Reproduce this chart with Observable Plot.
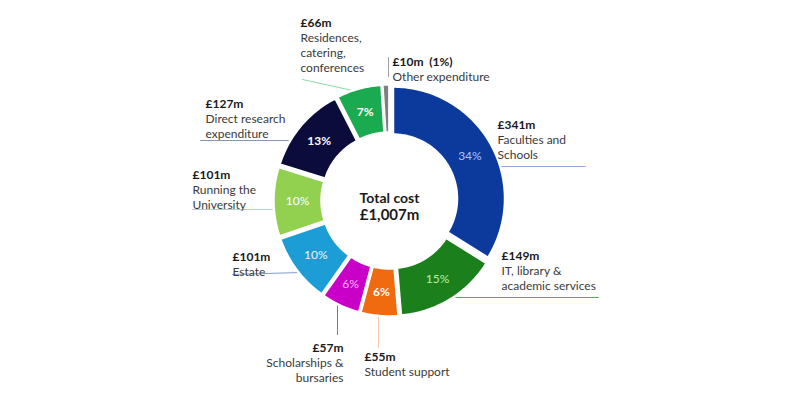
<!DOCTYPE html>
<html><head><meta charset="utf-8">
<script src="https://cdn.jsdelivr.net/npm/d3@7"></script>
<script src="https://cdn.jsdelivr.net/npm/@observablehq/plot@0.6"></script>
<style>
html,body{margin:0;padding:0;background:#fff;}
#chart{width:800px;height:400px;}
</style></head><body><div id="chart"></div>
<script>
// ---- data ----
const categories = ["Faculties and Schools","IT, library & academic services","Student support","Scholarships & bursaries","Estate","Running the University","Direct research expenditure","Residences, catering, conferences","Other expenditure"];
const values = [341,149,55,57,101,101,127,66,10];
const valueLabels = ["£341m","£149m","£55m","£57m","£101m","£101m","£127m","£66m","£10m  (1%)"];
const nameLabels = [["Faculties and","Schools"],["IT, library &","academic services"],["Student support"],["Scholarships &","bursaries"],["Estate"],["Running the","University"],["Direct research","expenditure"],["Residences,","catering,","conferences"],["Other expenditure"]];
const pctLabels = ["34%","15%","6%","6%","10%","10%","13%","7%",""];
const totalLabels = ["Total cost","£1,007m"];

// ---- styles / layout ----
const sliceColors = ["#0b3a9c","#1b801b","#f06a10","#c800c8","#1c9dd6","#92d050","#0c0c3c","#1aab50","#7f7f7f"];
const pctColors = ["#a8c4ff","#b8f0a8","#ffffff","#f8b8f8","#e8f6ff","#ffffff","#ffffff","#ffffff","#ffffff"];
const pctBold = [false,false,true,false,false,false,true,true,false];
const leaderColors = ["#8faadc","#5aa85a","#f8cbad","#d040d0","#7f9fcf","#b4dc8c","#8497b0","#8fd8a8","#a0a0a0"];
const callouts = [
  {x:497, y:125, anchor:"start", leader:[[500,166],[585,166]]},
  {x:501, y:256, anchor:"start", leader:[[452,297],[598,297]]},
  {x:364, y:357, anchor:"start", leader:[[378,310],[378,347]]},
  {x:343, y:348, anchor:"end",   leader:[[337,303],[337,334]]},
  {x:232, y:257, anchor:"start", leader:[[232,274],[300,272]]},
  {x:192, y:175, anchor:"start", leader:[[192,209],[275,209]]},
  {x:205, y:104, anchor:"start", leader:[[200,140],[288,140]]},
  {x:300, y:23,  anchor:"start", leader:[[302,79],[352,90]]},
  {x:392, y:62,  anchor:"start", leader:[[388,57],[388,76]]}
];
const cx = 389, cy = 200, R = 112, r0 = 64, explode = 4, labelR = 88, lineGap = 15;

// ---- geometry from data ----
const pie = d3.pie().sort(null).value(d => d)(values);
const polys = [], pctRows = [];
pie.forEach((p, i) => {
  const mid = (p.startAngle + p.endAngle) / 2;
  const dx = explode * Math.sin(mid), dy = -explode * Math.cos(mid);
  const n = Math.max(4, Math.ceil((p.endAngle - p.startAngle) / 0.02));
  for (let k = 0; k <= n; k++) {
    const a = p.startAngle + (p.endAngle - p.startAngle) * k / n;
    polys.push({i, x: cx + dx + R * Math.sin(a), y: cy + dy - R * Math.cos(a)});
  }
  for (let k = n; k >= 0; k--) {
    const a = p.startAngle + (p.endAngle - p.startAngle) * k / n;
    polys.push({i, x: cx + dx + r0 * Math.sin(a), y: cy + dy - r0 * Math.cos(a)});
  }
  pctRows.push({i, label: pctLabels[i], bold: pctBold[i], color: pctColors[i],
    x: cx + dx + labelR * Math.sin(mid), y: cy + dy - labelR * Math.cos(mid)});
});
const leaders = callouts.flatMap((c, i) => c.leader.map(([x, y]) => ({i, x, y})));
const valueRows = callouts.map((c, i) => ({i, x: c.x, y: c.y, anchor: c.anchor, label: valueLabels[i]}));
const nameRows = callouts.flatMap((c, i) => nameLabels[i].map((t, j) => ({i, x: c.x, y: c.y + lineGap * (j + 1), anchor: c.anchor, label: t})));
const totalRows = totalLabels.map((t, j) => ({label: t, x: cx, y: cy - 2 + 17 * j}));

const chart = Plot.plot({
  width: 800, height: 400, margin: 0,
  x: {domain: [0, 800], range: [0, 800], axis: null},
  y: {domain: [0, 400], range: [0, 400], axis: null},
  color: {type: "identity"},
  style: {fontFamily: "Lato, 'Open Sans', sans-serif", background: "#fff"},
  marks: [
    Plot.line(leaders, {x: "x", y: "y", z: "i", stroke: d => leaderColors[d.i], strokeWidth: 1}),
    Plot.line(polys, {x: "x", y: "y", z: "i", fill: d => sliceColors[d.i], stroke: "#ffffff", strokeWidth: 2.5, curve: "linear-closed"}),
    Plot.text(pctRows.filter(d => d.bold), {x: "x", y: "y", text: "label", fill: "color", fontSize: 12, fontWeight: "bold"}),
    Plot.text(pctRows.filter(d => !d.bold), {x: "x", y: "y", text: "label", fill: "color", fontSize: 12}),
    Plot.text(valueRows.filter(d => d.anchor === "start"), {x: "x", y: "y", text: "label", textAnchor: "start", fontSize: 12, fontWeight: "bold", fill: "#1a1a1a"}),
    Plot.text(valueRows.filter(d => d.anchor === "end"), {x: "x", y: "y", text: "label", textAnchor: "end", fontSize: 12, fontWeight: "bold", fill: "#1a1a1a"}),
    Plot.text(nameRows.filter(d => d.anchor === "start"), {x: "x", y: "y", text: "label", textAnchor: "start", fontSize: 12, fill: "#3a3a3a"}),
    Plot.text(nameRows.filter(d => d.anchor === "end"), {x: "x", y: "y", text: "label", textAnchor: "end", fontSize: 12, fill: "#3a3a3a"}),
    Plot.text(totalRows.slice(0, 1), {x: "x", y: "y", text: "label", fontSize: 14, fontWeight: "bold", fill: "#1a1a1a"}),
    Plot.text(totalRows.slice(1), {x: "x", y: "y", text: "label", fontSize: 15, fontWeight: "bold", fill: "#1a1a1a"})
  ]
});
document.getElementById("chart").appendChild(chart);
</script></body></html>
